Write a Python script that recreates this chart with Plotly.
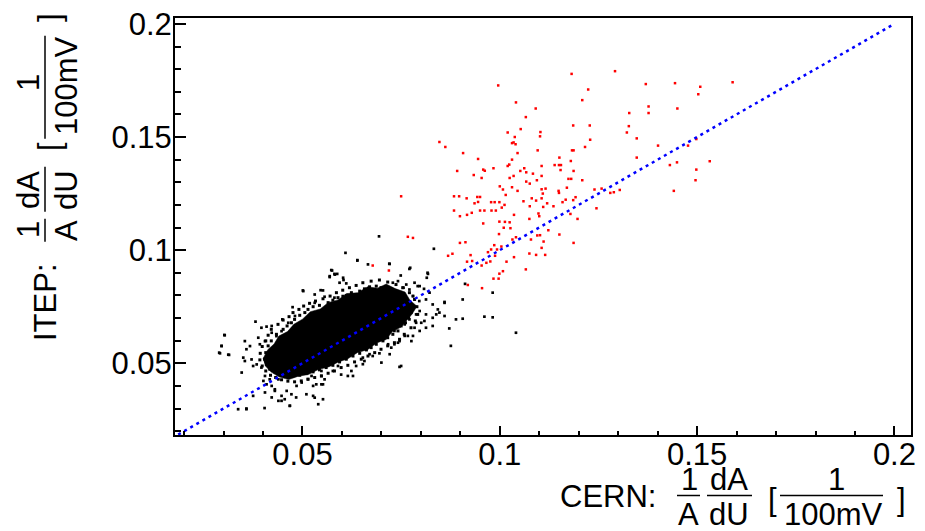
import plotly.graph_objects as go

# ---- data ----
# red: points outside the main population
red_x = [0.1182, 0.1292, 0.0996, 0.1224, 0.1370, 0.1444, 0.1508, 0.1503, 0.1209, 0.1041,
         0.1091, 0.1377, 0.1450, 0.1328, 0.1377, 0.1066, 0.1186, 0.1228, 0.1053, 0.1020,
         0.1103, 0.1102, 0.1327, 0.1322, 0.1229, 0.1347, 0.0847, 0.0862, 0.1038, 0.1035,
         0.1031, 0.1040, 0.1216, 0.0907, 0.1045, 0.1096, 0.1183, 0.1187, 0.1401, 0.1477,
         0.0945, 0.1031, 0.1151, 0.1180, 0.1347, 0.1532, 0.1024, 0.1020, 0.1106, 0.1139,
         0.1150, 0.1155, 0.1431, 0.1449, 0.0892, 0.0958, 0.0962, 0.0984, 0.1052, 0.1062,
         0.1067, 0.1084, 0.1154, 0.1187, 0.1498, 0.0934, 0.0954, 0.1025, 0.1035, 0.1106,
         0.1174, 0.1181, 0.1094, 0.1209, 0.1496, 0.1000, 0.1008, 0.1031, 0.1045, 0.1067,
         0.1076, 0.1106, 0.1116, 0.1149, 0.1170, 0.1240, 0.1258, 0.1280, 0.1289, 0.1304,
         0.1441, 0.0884, 0.0897, 0.0916, 0.0943, 0.0950, 0.1015, 0.1060, 0.1081, 0.1109,
         0.1150, 0.1106, 0.1167, 0.1186, 0.1192, 0.0999, 0.1012, 0.0936, 0.0945, 0.0978,
         0.0987, 0.1005, 0.0961, 0.0979, 0.0990, 0.1076, 0.1092, 0.1120, 0.1110, 0.1136,
         0.1159, 0.1245, 0.0884, 0.0899, 0.0917, 0.0929, 0.0950, 0.1036, 0.1075, 0.1098,
         0.1100, 0.1179, 0.1197, 0.0958, 0.0999, 0.1013, 0.1025, 0.1010, 0.1027, 0.0998,
         0.1041, 0.1032, 0.1079, 0.1095, 0.1102, 0.1123, 0.1111, 0.1151, 0.1187, 0.0913,
         0.0899, 0.0986, 0.0978, 0.0993, 0.0988, 0.1004, 0.1106, 0.0869, 0.0880, 0.0926,
         0.0970, 0.0976, 0.0954, 0.0917, 0.0930, 0.0966, 0.1017, 0.1036, 0.1075, 0.1092,
         0.1115, 0.1066, 0.1008, 0.0999, 0.0984, 0.0997, 0.0919, 0.0955, 0.1498, 0.1590,
         0.0750, 0.0767, 0.0780, 0.0678, 0.0719]
red_y = [0.1779, 0.1791, 0.1728, 0.1710, 0.1734, 0.1738, 0.1722, 0.1689, 0.1663, 0.1653,
         0.1626, 0.1635, 0.1626, 0.1606, 0.1606, 0.1588, 0.1551, 0.1551, 0.1535, 0.1520,
         0.1522, 0.1503, 0.1548, 0.1520, 0.1488, 0.1494, 0.1478, 0.1456, 0.1500, 0.1476,
         0.1473, 0.1468, 0.1456, 0.1429, 0.1429, 0.1441, 0.1441, 0.1441, 0.1462, 0.1462,
         0.1403, 0.1400, 0.1409, 0.1394, 0.1409, 0.1393, 0.1378, 0.1372, 0.1372, 0.1376,
         0.1376, 0.1376, 0.1376, 0.1388, 0.1350, 0.1356, 0.1351, 0.1362, 0.1350, 0.1362,
         0.1344, 0.1338, 0.1354, 0.1350, 0.1356, 0.1332, 0.1319, 0.1319, 0.1328, 0.1328,
         0.1315, 0.1315, 0.1309, 0.1309, 0.1309, 0.1282, 0.1268, 0.1278, 0.1262, 0.1303,
         0.1294, 0.1269, 0.1272, 0.1262, 0.1276, 0.1268, 0.1272, 0.1253, 0.1256, 0.1266,
         0.1262, 0.1238, 0.1238, 0.1229, 0.1235, 0.1235, 0.1244, 0.1216, 0.1229, 0.1250,
         0.1253, 0.1229, 0.1223, 0.1221, 0.1234, 0.1212, 0.1200, 0.1207, 0.1213, 0.1212,
         0.1212, 0.1188, 0.1175, 0.1175, 0.1175, 0.1194, 0.1219, 0.1207, 0.1191, 0.1194,
         0.1212, 0.1185, 0.1175, 0.1150, 0.1156, 0.1165, 0.1175, 0.1156, 0.1138, 0.1162,
         0.1150, 0.1160, 0.1138, 0.1118, 0.1126, 0.1125, 0.1123, 0.1099, 0.1097, 0.1071,
         0.1057, 0.1047, 0.1047, 0.1065, 0.1066, 0.1088, 0.1038, 0.1069, 0.1032, 0.1035,
         0.1032, 0.1022, 0.1003, 0.1003, 0.0975, 0.1016, 0.1010, 0.0975, 0.0984, 0.0978,
         0.0991, 0.0950, 0.0932, 0.0949, 0.0952, 0.0944, 0.0949, 0.0969, 0.0985, 0.0979,
         0.0979, 0.0915, 0.0907, 0.0896, 0.0874, 0.0874, 0.0846, 0.0832, 0.1491, 0.1742,
         0.1238, 0.1059, 0.1054, 0.0932, 0.0910]

# black: outline of the saturated core of the main population
core_x = [0.0400, 0.0412, 0.0428, 0.0440, 0.0462, 0.0478, 0.0500, 0.0520, 0.0545, 0.0565,
          0.0590, 0.0612, 0.0640, 0.0665, 0.0690, 0.0712, 0.0735, 0.0760, 0.0772, 0.0790,
          0.0778, 0.0765, 0.0750, 0.0728, 0.0712, 0.0688, 0.0665, 0.0640, 0.0615, 0.0590,
          0.0568, 0.0540, 0.0515, 0.0490, 0.0465, 0.0440, 0.0420, 0.0405]
core_y = [0.0520, 0.0560, 0.0585, 0.0620, 0.0640, 0.0672, 0.0695, 0.0728, 0.0740, 0.0768,
          0.0780, 0.0808, 0.0812, 0.0838, 0.0832, 0.0850, 0.0830, 0.0815, 0.0780, 0.0752,
          0.0718, 0.0690, 0.0660, 0.0640, 0.0605, 0.0590, 0.0560, 0.0548, 0.0520, 0.0505,
          0.0485, 0.0472, 0.0450, 0.0443, 0.0428, 0.0440, 0.0462, 0.0490]

# black: dense halo right around the core
halo_x = [0.0434, 0.0451, 0.0461, 0.0472, 0.0480, 0.0493, 0.0506, 0.0514, 0.0527, 0.0543,
          0.0565, 0.0577, 0.0590, 0.0611, 0.0624, 0.0645, 0.0657, 0.0670, 0.0687, 0.0699,
          0.0712, 0.0725, 0.0737, 0.0750, 0.0758, 0.0767, 0.0771, 0.0775, 0.0769, 0.0761,
          0.0750, 0.0742, 0.0729, 0.0716, 0.0704, 0.0687, 0.0674, 0.0662, 0.0645, 0.0628,
          0.0611, 0.0594, 0.0577, 0.0560, 0.0543, 0.0527, 0.0510, 0.0493, 0.0476, 0.0459,
          0.0442, 0.0430, 0.0417, 0.0409, 0.0404, 0.0407, 0.0413, 0.0421,
          0.0421, 0.0438, 0.0451, 0.0466, 0.0476, 0.0491, 0.0503, 0.0518, 0.0533, 0.0552,
          0.0570, 0.0586, 0.0602, 0.0619, 0.0636, 0.0653, 0.0674, 0.0695, 0.0716, 0.0737,
          0.0754, 0.0771, 0.0784, 0.0790, 0.0792, 0.0786, 0.0775, 0.0758, 0.0746, 0.0733,
          0.0716, 0.0699, 0.0683, 0.0666, 0.0649, 0.0632, 0.0615, 0.0598, 0.0581, 0.0565,
          0.0548, 0.0531, 0.0514, 0.0497, 0.0480, 0.0463, 0.0447, 0.0432, 0.0419, 0.0407,
          0.0398, 0.0392, 0.0393, 0.0398, 0.0407, 0.0413]
halo_y = [0.0628, 0.0650, 0.0665, 0.0679, 0.0694, 0.0712, 0.0724, 0.0738, 0.0750, 0.0756,
          0.0768, 0.0779, 0.0790, 0.0800, 0.0812, 0.0819, 0.0829, 0.0838, 0.0841, 0.0834,
          0.0838, 0.0829, 0.0819, 0.0804, 0.0790, 0.0768, 0.0746, 0.0724, 0.0701, 0.0679,
          0.0665, 0.0643, 0.0628, 0.0613, 0.0599, 0.0584, 0.0569, 0.0559, 0.0544, 0.0532,
          0.0518, 0.0506, 0.0491, 0.0481, 0.0471, 0.0462, 0.0456, 0.0447, 0.0444, 0.0447,
          0.0452, 0.0462, 0.0474, 0.0496, 0.0518, 0.0547, 0.0577, 0.0599,
          0.0650, 0.0672, 0.0691, 0.0706, 0.0724, 0.0738, 0.0753, 0.0765, 0.0775, 0.0785,
          0.0797, 0.0812, 0.0823, 0.0834, 0.0844, 0.0856, 0.0863, 0.0868, 0.0859, 0.0848,
          0.0834, 0.0812, 0.0782, 0.0750, 0.0716, 0.0687, 0.0657, 0.0628, 0.0606, 0.0591,
          0.0577, 0.0562, 0.0547, 0.0532, 0.0518, 0.0506, 0.0491, 0.0481, 0.0466, 0.0456,
          0.0444, 0.0437, 0.0430, 0.0422, 0.0418, 0.0421, 0.0427, 0.0437, 0.0447, 0.0466,
          0.0488, 0.0515, 0.0544, 0.0574, 0.0599, 0.0624]

# black: individual points further out
black_x = [0.0502, 0.0546, 0.0475, 0.0531, 0.0381, 0.0354, 0.0302, 0.0295, 0.0289, 0.0312,
           0.0358, 0.0367, 0.0396, 0.0409, 0.0422, 0.0388, 0.0392, 0.0405, 0.0350, 0.0354,
           0.0371, 0.0375, 0.0384, 0.0346, 0.0396, 0.0405, 0.0401, 0.0409, 0.0422, 0.0430,
           0.0417, 0.0447, 0.0460, 0.0472, 0.0485, 0.0498, 0.0514, 0.0523, 0.0510, 0.0527,
           0.0535, 0.0548, 0.0439, 0.0455, 0.0468, 0.0405, 0.0422, 0.0358, 0.0375, 0.0337,
           0.0531, 0.0540, 0.0552, 0.0439, 0.0449, 0.0464, 0.0481, 0.0422, 0.0434, 0.0447,
           0.0694, 0.0609, 0.0639, 0.0666, 0.0721, 0.0833, 0.0575, 0.0582, 0.0569, 0.0603,
           0.0594, 0.0771, 0.0749, 0.0818, 0.0815, 0.0729, 0.0742, 0.0763, 0.0784, 0.0797,
           0.0808, 0.0771, 0.0780, 0.0822, 0.0860, 0.0843, 0.0839, 0.0797, 0.0813, 0.0830,
           0.0801, 0.0784, 0.0797, 0.0813, 0.0759, 0.0746, 0.0717, 0.0742, 0.0776, 0.0746,
           0.0721, 0.0700, 0.0653, 0.0653, 0.0670, 0.0624, 0.0628, 0.0590, 0.0577, 0.0556,
           0.0552, 0.0548, 0.0687, 0.0700, 0.0733, 0.0759, 0.0771, 0.0788, 0.0982, 0.0912,
           0.0906, 0.0860, 0.0961, 0.0982, 0.0889, 0.0906, 0.1041, 0.0876, 0.0750, 0.0830,
           0.0847, 0.0860, 0.0872, 0.0830, 0.0817, 0.0773, 0.0720, 0.0639, 0.0303, 0.0295,
           0.0291, 0.0314, 0.0358, 0.0404, 0.0447, 0.0468, 0.0484, 0.0430, 0.0527, 0.0548,
           0.0598, 0.0615, 0.0636, 0.0657, 0.0678, 0.0695, 0.0725, 0.0733, 0.0767, 0.0780,
           0.0788, 0.0809, 0.0796, 0.0813, 0.0780, 0.0792, 0.0756, 0.0501, 0.0531, 0.0552,
           0.0556, 0.0581, 0.0602, 0.0573, 0.0581, 0.0588, 0.0569, 0.0604, 0.0611]
black_y = [0.0819, 0.0823, 0.0748, 0.0767, 0.0684, 0.0598, 0.0625, 0.0576, 0.0547, 0.0538,
           0.0562, 0.0576, 0.0657, 0.0662, 0.0665, 0.0613, 0.0584, 0.0598, 0.0525, 0.0510,
           0.0517, 0.0488, 0.0495, 0.0459, 0.0481, 0.0444, 0.0422, 0.0407, 0.0400, 0.0378,
           0.0429, 0.0356, 0.0378, 0.0363, 0.0400, 0.0415, 0.0429, 0.0444, 0.0363, 0.0356,
           0.0407, 0.0407, 0.0334, 0.0341, 0.0312, 0.0371, 0.0349, 0.0300, 0.0356, 0.0297,
           0.0348, 0.0319, 0.0341, 0.0429, 0.0694, 0.0679, 0.0709, 0.0635, 0.0620, 0.0642,
           0.1061, 0.0988, 0.0954, 0.0937, 0.0939, 0.1006, 0.0910, 0.0892, 0.0885, 0.0878,
           0.0856, 0.0917, 0.0888, 0.0895, 0.0878, 0.0856, 0.0863, 0.0848, 0.0856, 0.0841,
           0.0829, 0.0826, 0.0797, 0.0812, 0.0767, 0.0738, 0.0716, 0.0731, 0.0716, 0.0701,
           0.0679, 0.0657, 0.0643, 0.0657, 0.0621, 0.0598, 0.0584, 0.0591, 0.0598, 0.0484,
           0.0540, 0.0503, 0.0496, 0.0525, 0.0540, 0.0466, 0.0444, 0.0488, 0.0466, 0.0429,
           0.0407, 0.0466, 0.0598, 0.0628, 0.0643, 0.0672, 0.0694, 0.0716, 0.0812, 0.0851,
           0.0782, 0.0771, 0.0706, 0.0703, 0.0694, 0.0697, 0.0635, 0.0577, 0.0488, 0.0760,
           0.0724, 0.0709, 0.0654, 0.0665, 0.0900, 0.0922, 0.0940, 0.0956, 0.0624, 0.0577,
           0.0544, 0.0537, 0.0297, 0.0302, 0.0334, 0.0312, 0.0349, 0.0385, 0.0400, 0.0444,
           0.0450, 0.0444, 0.0488, 0.0510, 0.0532, 0.0544, 0.0569, 0.0584, 0.0621, 0.0621,
           0.0679, 0.0687, 0.0775, 0.0782, 0.0797, 0.0841, 0.0834, 0.0822, 0.0804, 0.0822,
           0.0794, 0.0790, 0.0797, 0.0912, 0.0895, 0.0895, 0.0881, 0.0868, 0.0853]

# blue dotted reference line y = x
line_x = [0.0185, 0.2]
line_y = [0.0185, 0.2]

tick_vals = [0.05, 0.1, 0.15, 0.2]
tick_text = ["0.05", "0.1", "0.15", "0.2"]

FONT = "Liberation Sans, Arial, Helvetica, sans-serif"
FS = 31
OFF = 8  # page body margin added by the browser

fig = go.Figure()
fig.add_trace(go.Scatter(x=core_x, y=core_y, mode="lines", fill="toself",
                         fillcolor="black", line=dict(width=0.5, color="black"),
                         hoverinfo="skip"))
fig.add_trace(go.Scatter(x=halo_x, y=halo_y, mode="markers",
                         marker=dict(symbol="square", size=3, color="black", line=dict(width=0))))
fig.add_trace(go.Scatter(x=black_x, y=black_y, mode="markers",
                         marker=dict(symbol="square", size=2.7, color="black", line=dict(width=0))))
fig.add_trace(go.Scatter(x=red_x, y=red_y, mode="markers",
                         marker=dict(symbol="square", size=2.5, color="#ff0000", line=dict(width=0))))
fig.add_trace(go.Scatter(x=line_x, y=line_y, mode="lines",
                         line=dict(color="#0000ff", width=2.5, dash="3px,4px")))

# plot frame in page pixels: x 175..911, y 18..435
L, R, T, B = 175, 911, 18, 435


def px(x):
    return (x - L) / (R - L)


def py(y):
    return (B - y) / (B - T)


def txt(s, x, y, xa="center", ya="middle", angle=0):
    fig.add_annotation(text=s, x=px(x), y=py(y), xref="paper", yref="paper",
                       xanchor=xa, yanchor=ya, showarrow=False, textangle=angle,
                       borderpad=0,
                       font=dict(family=FONT, size=FS, color="black"))


def bar(x0, y0, x1, y1):
    fig.add_shape(type="line", x0=px(x0), y0=py(y0), x1=px(x1), y1=py(y1),
                  xref="paper", yref="paper", line=dict(color="black", width=1.5))


# x title: CERN: 1/A dA/dU [1/100mV]
txt("CERN:", 657, 496, xa="right")
txt("1", 689, 479)
txt("A", 688, 514)
bar(677, 495.5, 700, 495.5)
txt("dA", 729, 479)
txt("dU", 729, 514)
bar(707, 495.5, 752, 495.5)
txt("[", 772, 500)
txt("1", 836, 479)
txt("100mV", 833, 514)
bar(780, 495.5, 883, 495.5)
txt("]", 901, 500)


# y title: ITEP: 1/A dA/dU [1/100mV], rotated
def ypos(xt):
    return 11.7 + (907 - xt)


def xpos(yt):
    return 45 + (yt - 497.7)


txt("ITEP:", xpos(498), ypos(657), ya="top", angle=-90)
txt("1", xpos(481), ypos(689), angle=-90)
txt("A", xpos(519), ypos(688), angle=-90)
bar(45, ypos(677), 45, ypos(700))
txt("dA", xpos(481), ypos(729), angle=-90)
txt("dU", xpos(519), ypos(729), angle=-90)
bar(45, ypos(707), 45, ypos(752))
txt("[", xpos(502), ypos(772), angle=-90)
txt("1", xpos(481), ypos(836), angle=-90)
txt("100mV", xpos(519), ypos(833), angle=-90)
bar(45, ypos(780), 45, ypos(883))
txt("]", xpos(502), ypos(901), angle=-90)

axis_common = dict(
    tickmode="array", tickvals=tick_vals, ticktext=tick_text,
    ticks="inside", tickwidth=1.5, tickcolor="black",
    minor=dict(ticks="inside", tickmode="linear", tick0=0, dtick=0.01,
               tickwidth=1.5, tickcolor="black"),
    showline=True, linecolor="black", linewidth=2, mirror=True,
    showgrid=False, zeroline=False, automargin=False,
    ticklabeloverflow="allow",
    tickfont=dict(family=FONT, size=FS, color="black"),
)

fig.update_layout(
    width=925 - OFF, height=531 - OFF,
    margin=dict(l=L - OFF, r=925 - R, t=T - OFF, b=531 - B),
    paper_bgcolor="white", plot_bgcolor="white",
    showlegend=False,
    xaxis=dict(range=[0.0177, 0.2042], ticklen=9, ticklabelstandoff=-9, **axis_common),
    yaxis=dict(range=[0.0183, 0.2026], ticklen=11, ticklabelstandoff=-5, **axis_common),
)
fig.update_xaxes(minor_ticklen=4.5)
fig.update_yaxes(minor_ticklen=5.5)

fig.write_html("out.html")
